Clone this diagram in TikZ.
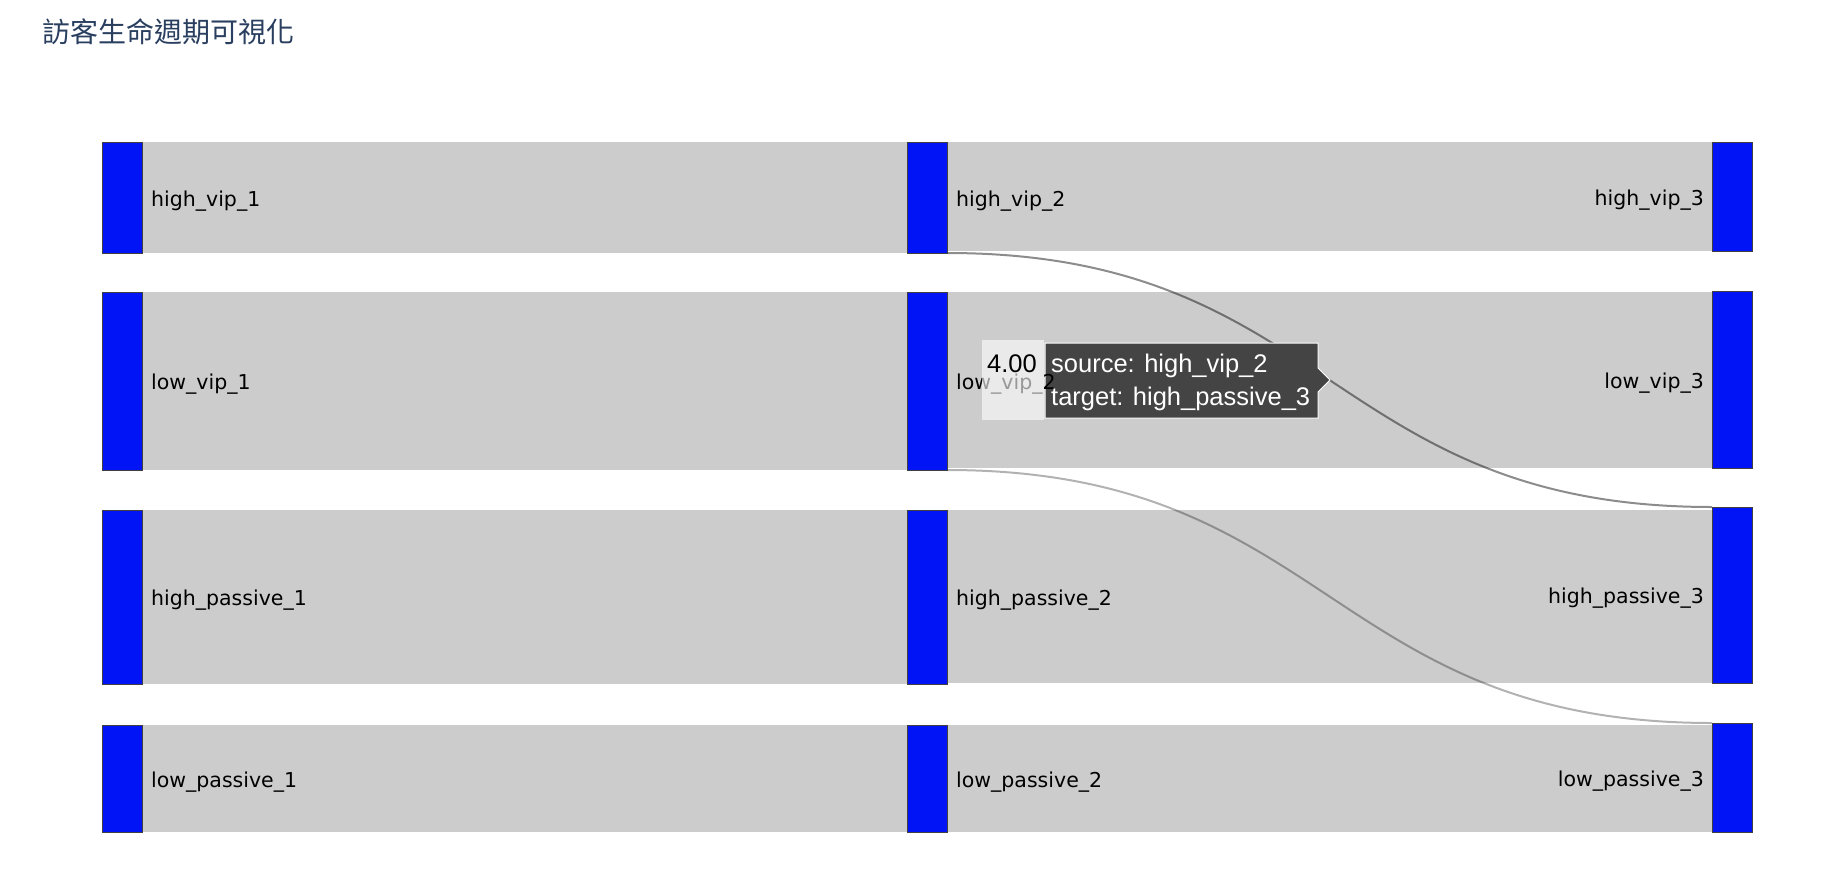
\documentclass[tikz,border=0pt]{standalone}
\usepackage{fontspec}
\setmainfont{DejaVu Sans}
\newfontfamily\cjkfont{Noto Sans CJK TC}
\newfontfamily\arialfont{Liberation Sans}
\usetikzlibrary{calc}
\definecolor{nodeblue}{RGB}{0,20,245}
\definecolor{bandgray}{RGB}{204,204,204}
\definecolor{titleblue}{HTML}{2A3F5F}
\definecolor{tipdark}{HTML}{444444}
\begin{document}
\begin{tikzpicture}[x=1pt,y=-1pt,
  blk/.style={draw=black!75, line width=0.8pt, fill=nodeblue, minimum width=40pt, inner sep=0pt, outer sep=0pt, anchor=north west},
  lbl/.style={font=\fontsize{20.5}{24}\selectfont, inner sep=0pt, text=black},
  band/.style={fill=bandgray, draw=none},
  hotlink/.style={line width=2pt, draw=black, draw opacity=0.45},
  coldlink/.style={line width=2pt, draw=black, draw opacity=0.3},
  tipfont/.style={font=\arialfont\fontsize{25.5}{33}\selectfont, inner sep=0pt}
]
\fill[white] (0,0) rectangle (1842,876);
\useasboundingbox (0,0) rectangle (1842,876);

% title
\node[anchor=base west, inner sep=0pt, text=titleblue, font=\cjkfont\fontsize{28}{34}\selectfont] (title) at (42,42) {訪客生命週期可視化};

% nodes
\node[blk, minimum height=111pt] (hv1) at (102,142) {};
\node[blk, minimum height=178pt] (lv1) at (102,292) {};
\node[blk, minimum height=174pt] (hp1) at (102,510) {};
\node[blk, minimum height=107pt] (lp1) at (102,725) {};
\node[blk, minimum height=111pt] (hv2) at (907,142) {};
\node[blk, minimum height=178pt] (lv2) at (907,292) {};
\node[blk, minimum height=174pt] (hp2) at (907,510) {};
\node[blk, minimum height=107pt] (lp2) at (907,725) {};
\node[blk, minimum height=109pt] (hv3) at (1712,142) {};
\node[blk, minimum height=177pt] (lv3) at (1712,291) {};
\node[blk, minimum height=176pt] (hp3) at (1712,507) {};
\node[blk, minimum height=109pt] (lp3) at (1712,723) {};

% bands
\fill[band] (hv1.north east) rectangle (hv2.south west);
\fill[band] (lv1.north east) rectangle (lv2.south west);
\fill[band] (hp1.north east) rectangle (hp2.south west);
\fill[band] (lp1.north east) rectangle (lp2.south west);
\fill[band] (hv2.north east) rectangle (hv3.south west);
\fill[band] (lv2.north east) rectangle (lv3.south west);
\fill[band] (hp2.north east) rectangle (hp3.south west);
\fill[band] (lp2.north east) rectangle (lp3.south west);

% thin links
\draw[hotlink] (hv2.south east) .. controls +(382,0) and +(-382,0) .. (hp3.north west);
\draw[coldlink] (lv2.south east) .. controls +(382,0) and +(-382,0) .. (lp3.north west);

% redraw nodes on top
\foreach \n in {hv1,lv1,hp1,lp1,hv2,lv2,hp2,lp2,hv3,lv3,hp3,lp3}{
  \draw[draw=black!75, line width=0.8pt, fill=nodeblue] (\n.north west) rectangle (\n.south east);
}

% labels
\node[lbl, anchor=west] (thv1) at ($(hv1.east)+(9,3.5)$) {high\_vip\_1};
\node[lbl, anchor=west] (tlv1) at ($(lv1.east)+(9,3.5)$) {low\_vip\_1};
\node[lbl, anchor=west] (thp1) at ($(hp1.east)+(9,3.5)$) {high\_passive\_1};
\node[lbl, anchor=west] (tlp1) at ($(lp1.east)+(9,3.5)$) {low\_passive\_1};
\node[lbl, anchor=west] (thv2) at ($(hv2.east)+(9,3.5)$) {high\_vip\_2};
\node[lbl, anchor=west] (thp2) at ($(hp2.east)+(9,3.5)$) {high\_passive\_2};
\node[lbl, anchor=west] (tlp2) at ($(lp2.east)+(9,3.5)$) {low\_passive\_2};
\node[lbl, anchor=east] (thv3) at ($(hv3.west)+(-8,3.5)$) {high\_vip\_3};
\node[lbl, anchor=east] (tlv3) at ($(lv3.west)+(-8,3.5)$) {low\_vip\_3};
\node[lbl, anchor=east] (thp3) at ($(hp3.west)+(-8,3.5)$) {high\_passive\_3};
\node[lbl, anchor=east] (tlp3) at ($(lp3.west)+(-8,3.5)$) {low\_passive\_3};

% tooltip
\filldraw[fill=tipdark, draw=white, line width=1pt]
  (1045,343) -- (1318,343) -- (1318,368) -- (1330,380) -- (1318,392) -- (1318,418) -- (1045,418) -- cycle;
\node[lbl, anchor=west] (tlv2) at ($(lv2.east)+(9,3.5)$) {low\_vip\_2};
\fill[white, fill opacity=0.6] (982,340) rectangle (1044,420);
\node[tipfont, anchor=base, text=black] (val) at (1012,372) {4.00};
\node[tipfont, anchor=base west, text=white] (src) at (1051,372) {source: high\_vip\_2};
\node[tipfont, anchor=base west, text=white] (tgt) at (1051,405) {target: high\_passive\_3};
\end{tikzpicture}
\end{document}
